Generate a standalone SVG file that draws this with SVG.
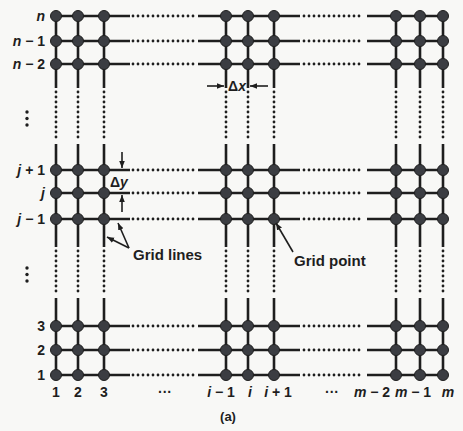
<svg xmlns="http://www.w3.org/2000/svg" width="463" height="431" viewBox="0 0 463 431">
<style>
.bg{fill:#f8f8f6}
.ln{stroke:#1e1e1e;stroke-width:2.6;fill:none}
.dt{stroke:#1e1e1e;stroke-width:2.8;fill:none;stroke-linecap:round;stroke-dasharray:0 5}
.pt{fill:#3b3d42;stroke:#1e1e1e;stroke-width:1}
.ar{stroke:#1e1e1e;stroke-width:1.6;fill:none}
.lb{font-family:"Liberation Sans",Arial,sans-serif;font-weight:bold;font-size:14px;fill:#1e1e1e}
.it{font-style:italic}
.an{font-family:"Liberation Sans",Arial,sans-serif;font-weight:bold;font-size:15px;fill:#1e1e1e}
.cap{font-family:"Liberation Sans",Arial,sans-serif;font-weight:bold;font-size:13px;fill:#1e1e1e}
.el{fill:#1e1e1e}
</style>
<defs>
<marker id="ah" viewBox="0 0 10 10" refX="10" refY="5" markerWidth="7" markerHeight="7" markerUnits="userSpaceOnUse" orient="auto">
<path d="M0,1 L10,5 L0,9 Z" fill="#1e1e1e"/>
</marker>
<g id="hrow">
<line class="ln" x1="56" y1="0" x2="130" y2="0"/>
<line class="dt" x1="133" y1="0" x2="196" y2="0"/>
<line class="ln" x1="198" y1="0" x2="300" y2="0"/>
<line class="dt" x1="304" y1="0" x2="364" y2="0"/>
<line class="ln" x1="367" y1="0" x2="443" y2="0"/>
</g>
<g id="vcol">
<line class="ln" x1="0" y1="16" x2="0" y2="88"/>
<line class="dt" x1="0" y1="92" x2="0" y2="141"/>
<line class="ln" x1="0" y1="144" x2="0" y2="247"/>
<line class="dt" x1="0" y1="251" x2="0" y2="295"/>
<line class="ln" x1="0" y1="298" x2="0" y2="375"/>
</g>
</defs>
<rect class="bg" x="0" y="0" width="463" height="431"/>
<g id="connectors">
<use href="#hrow" y="16"/>
<use href="#hrow" y="41"/>
<use href="#hrow" y="64"/>
<use href="#hrow" y="170"/>
<use href="#hrow" y="193"/>
<use href="#hrow" y="219"/>
<use href="#hrow" y="326"/>
<use href="#hrow" y="350"/>
<use href="#hrow" y="375"/>
<use href="#vcol" x="56"/>
<use href="#vcol" x="78"/>
<use href="#vcol" x="104"/>
<use href="#vcol" x="226"/>
<use href="#vcol" x="248"/>
<use href="#vcol" x="274"/>
<use href="#vcol" x="396"/>
<use href="#vcol" x="420"/>
<use href="#vcol" x="443"/>
</g>
<g id="points">
<g id="p-top">
<circle class="pt" cx="56" cy="16" r="5.5"/><circle class="pt" cx="78" cy="16" r="5.5"/><circle class="pt" cx="104" cy="16" r="5.5"/>
<circle class="pt" cx="226" cy="16" r="5.5"/><circle class="pt" cx="248" cy="16" r="5.5"/><circle class="pt" cx="274" cy="16" r="5.5"/>
<circle class="pt" cx="396" cy="16" r="5.5"/><circle class="pt" cx="420" cy="16" r="5.5"/><circle class="pt" cx="443" cy="16" r="5.5"/>
<circle class="pt" cx="56" cy="41" r="5.5"/><circle class="pt" cx="78" cy="41" r="5.5"/><circle class="pt" cx="104" cy="41" r="5.5"/>
<circle class="pt" cx="226" cy="41" r="5.5"/><circle class="pt" cx="248" cy="41" r="5.5"/><circle class="pt" cx="274" cy="41" r="5.5"/>
<circle class="pt" cx="396" cy="41" r="5.5"/><circle class="pt" cx="420" cy="41" r="5.5"/><circle class="pt" cx="443" cy="41" r="5.5"/>
<circle class="pt" cx="56" cy="64" r="5.5"/><circle class="pt" cx="78" cy="64" r="5.5"/><circle class="pt" cx="104" cy="64" r="5.5"/>
<circle class="pt" cx="226" cy="64" r="5.5"/><circle class="pt" cx="248" cy="64" r="5.5"/><circle class="pt" cx="274" cy="64" r="5.5"/>
<circle class="pt" cx="396" cy="64" r="5.5"/><circle class="pt" cx="420" cy="64" r="5.5"/><circle class="pt" cx="443" cy="64" r="5.5"/>
</g>
<g id="p-mid">
<circle class="pt" cx="56" cy="170" r="5.5"/><circle class="pt" cx="78" cy="170" r="5.5"/><circle class="pt" cx="104" cy="170" r="5.5"/>
<circle class="pt" cx="226" cy="170" r="5.5"/><circle class="pt" cx="248" cy="170" r="5.5"/><circle class="pt" cx="274" cy="170" r="5.5"/>
<circle class="pt" cx="396" cy="170" r="5.5"/><circle class="pt" cx="420" cy="170" r="5.5"/><circle class="pt" cx="443" cy="170" r="5.5"/>
<circle class="pt" cx="56" cy="193" r="5.5"/><circle class="pt" cx="78" cy="193" r="5.5"/><circle class="pt" cx="104" cy="193" r="5.5"/>
<circle class="pt" cx="226" cy="193" r="5.5"/><circle class="pt" cx="248" cy="193" r="5.5"/><circle class="pt" cx="274" cy="193" r="5.5"/>
<circle class="pt" cx="396" cy="193" r="5.5"/><circle class="pt" cx="420" cy="193" r="5.5"/><circle class="pt" cx="443" cy="193" r="5.5"/>
<circle class="pt" cx="56" cy="219" r="5.5"/><circle class="pt" cx="78" cy="219" r="5.5"/><circle class="pt" cx="104" cy="219" r="5.5"/>
<circle class="pt" cx="226" cy="219" r="5.5"/><circle class="pt" cx="248" cy="219" r="5.5"/><circle class="pt" cx="274" cy="219" r="5.5"/>
<circle class="pt" cx="396" cy="219" r="5.5"/><circle class="pt" cx="420" cy="219" r="5.5"/><circle class="pt" cx="443" cy="219" r="5.5"/>
</g>
<g id="p-bot">
<circle class="pt" cx="56" cy="326" r="5.5"/><circle class="pt" cx="78" cy="326" r="5.5"/><circle class="pt" cx="104" cy="326" r="5.5"/>
<circle class="pt" cx="226" cy="326" r="5.5"/><circle class="pt" cx="248" cy="326" r="5.5"/><circle class="pt" cx="274" cy="326" r="5.5"/>
<circle class="pt" cx="396" cy="326" r="5.5"/><circle class="pt" cx="420" cy="326" r="5.5"/><circle class="pt" cx="443" cy="326" r="5.5"/>
<circle class="pt" cx="56" cy="350" r="5.5"/><circle class="pt" cx="78" cy="350" r="5.5"/><circle class="pt" cx="104" cy="350" r="5.5"/>
<circle class="pt" cx="226" cy="350" r="5.5"/><circle class="pt" cx="248" cy="350" r="5.5"/><circle class="pt" cx="274" cy="350" r="5.5"/>
<circle class="pt" cx="396" cy="350" r="5.5"/><circle class="pt" cx="420" cy="350" r="5.5"/><circle class="pt" cx="443" cy="350" r="5.5"/>
<circle class="pt" cx="56" cy="375" r="5.5"/><circle class="pt" cx="78" cy="375" r="5.5"/><circle class="pt" cx="104" cy="375" r="5.5"/>
<circle class="pt" cx="226" cy="375" r="5.5"/><circle class="pt" cx="248" cy="375" r="5.5"/><circle class="pt" cx="274" cy="375" r="5.5"/>
<circle class="pt" cx="396" cy="375" r="5.5"/><circle class="pt" cx="420" cy="375" r="5.5"/><circle class="pt" cx="443" cy="375" r="5.5"/>
</g>
</g>
<g id="row-labels" class="lb" text-anchor="end">
<text x="45" y="21"><tspan class="it">n</tspan></text>
<text x="45" y="46"><tspan class="it">n</tspan> − 1</text>
<text x="45" y="69"><tspan class="it">n</tspan> − 2</text>
<text x="45" y="175"><tspan class="it">j</tspan> + 1</text>
<text x="45" y="198"><tspan class="it">j</tspan></text>
<text x="45" y="224"><tspan class="it">j</tspan> − 1</text>
<text x="45" y="331">3</text>
<text x="45" y="355">2</text>
<text x="45" y="380">1</text>
</g>
<g id="ellipses">
<circle class="el" cx="27" cy="112" r="1.7"/><circle class="el" cx="27" cy="118.5" r="1.7"/><circle class="el" cx="27" cy="125" r="1.7"/>
<circle class="el" cx="27" cy="268" r="1.7"/><circle class="el" cx="27" cy="274.5" r="1.7"/><circle class="el" cx="27" cy="281" r="1.7"/>
</g>
<g id="col-labels" class="lb" text-anchor="middle">
<text x="56" y="397">1</text>
<text x="78" y="397">2</text>
<text x="104" y="397">3</text>
<text x="165" y="397">···</text>
<text x="221" y="397"><tspan class="it">i</tspan> − 1</text>
<text x="250" y="397"><tspan class="it">i</tspan></text>
<text x="278" y="397"><tspan class="it">i</tspan> + 1</text>
<text x="332" y="397">···</text>
<text x="372" y="397"><tspan class="it">m</tspan> − 2</text>
<text x="413" y="397"><tspan class="it">m</tspan> − 1</text>
<text x="448" y="397"><tspan class="it">m</tspan></text>
</g>
<g id="dx">
<line class="ar" x1="207" y1="86" x2="224" y2="86" marker-end="url(#ah)"/>
<line class="ar" x1="268" y1="86" x2="250" y2="86" marker-end="url(#ah)"/>
<text class="lb" x="237" y="91" text-anchor="middle">Δ<tspan class="it">x</tspan></text>
</g>
<g id="dy">
<line class="ar" x1="122" y1="152" x2="122" y2="168" marker-end="url(#ah)"/>
<line class="ar" x1="122" y1="212" x2="122" y2="195" marker-end="url(#ah)"/>
<text class="lb" x="110" y="187">Δ<tspan class="it">y</tspan></text>
</g>
<g id="grid-lines-label">
<line class="ar" x1="129" y1="248" x2="118" y2="223" marker-end="url(#ah)"/>
<line class="ar" x1="129" y1="248" x2="107" y2="237" marker-end="url(#ah)"/>
<text class="an" x="133" y="260">Grid lines</text>
</g>
<g id="grid-point-label">
<line class="ar" x1="293" y1="252" x2="276" y2="223" marker-end="url(#ah)"/>
<text class="an" x="294" y="266">Grid point</text>
</g>
<text id="caption" class="cap" x="228" y="421" text-anchor="middle">(a)</text>
</svg>
